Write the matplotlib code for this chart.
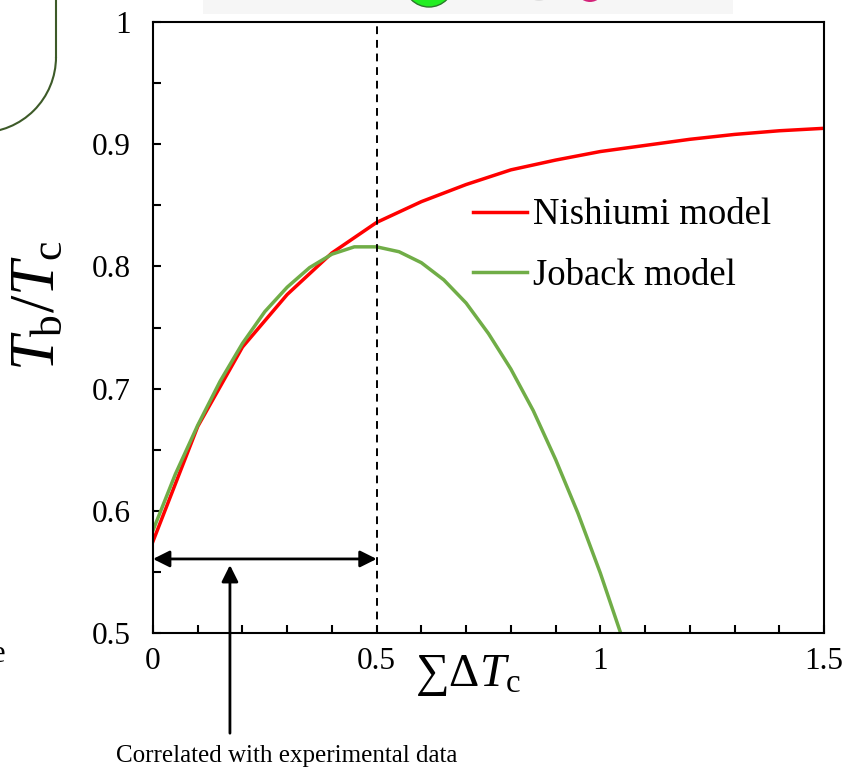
import matplotlib
matplotlib.use('Agg')
import matplotlib.pyplot as plt
from matplotlib.ticker import MultipleLocator, FormatStrFormatter
from matplotlib.patches import Arc, Circle, Rectangle

plt.rcParams['font.family'] = ['Liberation Serif', 'DejaVu Serif']
plt.rcParams['mathtext.fontset'] = 'custom'
plt.rcParams['mathtext.rm'] = 'Liberation Serif'
plt.rcParams['mathtext.it'] = 'Liberation Serif:italic'

# Nishiumi model
nishiumi_x = [0, 0.1, 0.2, 0.3, 0.4, 0.5, 0.6, 0.7, 0.8, 0.9, 1.0, 1.1, 1.2, 1.3, 1.4, 1.5]
nishiumi_y = [0.575, 0.669, 0.734, 0.777, 0.811, 0.836, 0.853, 0.867, 0.879, 0.887,
              0.894, 0.899, 0.904, 0.908, 0.911, 0.913]

# Joback model
joback_x = [0, 0.05, 0.1, 0.15, 0.2, 0.25, 0.3, 0.35, 0.4, 0.45, 0.5, 0.55,
            0.6, 0.65, 0.7, 0.75, 0.8, 0.85, 0.9, 0.95, 1.0, 1.05]
joback_y = [0.584, 0.630, 0.670, 0.706, 0.737, 0.763, 0.783, 0.799, 0.810, 0.816, 0.816, 0.812,
            0.803, 0.789, 0.770, 0.745, 0.716, 0.682, 0.642, 0.598, 0.549, 0.495]

fig = plt.figure(figsize=(8.46, 7.71), dpi=100)

# cropped bits of the surrounding figure
deco = fig.add_axes([0, 0, 1, 1], zorder=-1)
deco.set_xlim(0, 846)
deco.set_ylim(771, 0)
deco.axis('off')
deco.add_patch(Rectangle((203, 0), 530, 14, color='#f6f6f6', lw=0))
deco.add_patch(Circle((429, -18), 25, facecolor='#22ee22', edgecolor='#2a7a2a', lw=1))
deco.add_patch(Circle((539, -10), 11, facecolor='#e0e0e0', lw=0))
deco.add_patch(Circle((590, -12), 14, facecolor='#d4237a', lw=0))
deco.plot([56, 56], [0, 57], color='#3d5a28', lw=1.5)
deco.add_patch(Arc((-19.6, 57), 151.2, 151.2, theta1=0, theta2=90, color='#3d5a28', lw=1.5))
deco.text(-8, 655, 'e', fontsize=22, ha='left', va='center')

ax = fig.add_axes([153 / 846, 138 / 771, 671 / 846, 611 / 771])
ax.plot(nishiumi_x, nishiumi_y, color='#ff0000', lw=2.5, label='Nishiumi model')
ax.plot(joback_x, joback_y, color='#70ad47', lw=2.5, label='Joback model')
ax.axvline(0.5, color='black', lw=1.4, ls=(0, (4, 3)))

ax.set_xlim(0, 1.5)
ax.set_ylim(0.5, 1)
ax.xaxis.set_major_locator(MultipleLocator(0.5))
ax.xaxis.set_minor_locator(MultipleLocator(0.1))
ax.yaxis.set_major_locator(MultipleLocator(0.1))
ax.yaxis.set_minor_locator(MultipleLocator(0.05))
ax.xaxis.set_major_formatter(FormatStrFormatter('%g'))
ax.yaxis.set_major_formatter(FormatStrFormatter('%g'))
ax.tick_params(which='both', direction='in', width=1.5, length=5.5, labelsize=22.5)
ax.tick_params(axis='x', pad=10)
ax.tick_params(axis='y', pad=16)
for s in ax.spines.values():
    s.set_linewidth(1.5)

ax.text(0.47, -0.07, r'$\sum\Delta T_\mathrm{c}$', transform=ax.transAxes,
        fontsize=34, ha='center', va='center')
ax.text(-0.17, 0.535, r'$T_\mathrm{b}/T_\mathrm{c}$', transform=ax.transAxes,
        fontsize=45, rotation=90, ha='center', va='center')

ax.legend(loc='upper left', bbox_to_anchor=(0.477, 0.712), frameon=False, fontsize=26.5,
          handlelength=1.47, handletextpad=0.15, labelspacing=0.7,
          borderpad=0, borderaxespad=0)

# range used for fitting
ax.annotate('', xy=(0, 0.5606), xytext=(0.5, 0.5606),
            arrowprops=dict(arrowstyle='<|-|>', color='black', lw=2, mutation_scale=25,
                            shrinkA=0, shrinkB=0))
ax.annotate('', xy=(0.172, 0.5556), xytext=(0.172, 0.418), annotation_clip=False,
            arrowprops=dict(arrowstyle='-|>', color='black', lw=2, mutation_scale=25,
                            shrinkA=0, shrinkB=0))
fig.text(287 / 846, 1 - 756 / 771, 'Correlated with experimental data',
         fontsize=18, ha='center', va='center')

fig.savefig('out.png', dpi=100)
